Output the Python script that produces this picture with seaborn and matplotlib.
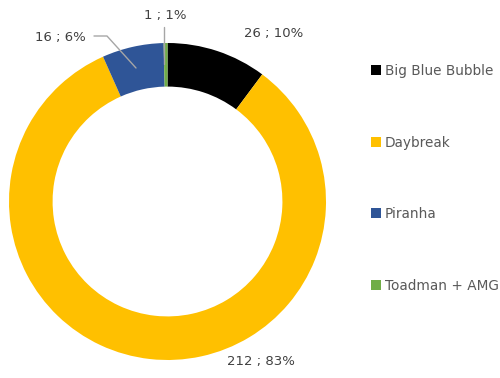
import matplotlib
matplotlib.use("Agg")
import matplotlib.pyplot as plt
import seaborn as sns
from matplotlib.patches import Patch

sns.set_theme(style="white")
plt.rcParams['font.family'] = ['DejaVu Sans']

categories = ["Big Blue Bubble", "Daybreak", "Piranha", "Toadman + AMG"]
values = [26, 212, 16, 1]
percents = ["10%", "83%", "6%", "1%"]
colors = ["#000000", "#FFC000", "#2F5597", "#70AD47"]

fig = plt.figure(figsize=(5.0, 3.78), dpi=100)
ax = fig.add_axes([9/500, 18/378, 317/500, 317/378])
wedges, _ = ax.pie(values, colors=colors, startangle=90, counterclock=False,
                   radius=1.0, wedgeprops=dict(width=0.275, linewidth=0))
ax.set_xlim(-1, 1)
ax.set_ylim(-1, 1)
ax.set_aspect("equal")
ax.axis("off")

labels = [f"{v} ; {p}" for v, p in zip(values, percents)]
tc = "#404040"
fs = 9.5

def px(x, y):
    return ((x - 167.5) / 158.5, (201.5 - y) / 158.5)

ax.text(*px(274, 33), labels[0], ha="center", va="center", fontsize=fs, color=tc)
ax.text(*px(261, 362), labels[1], ha="center", va="center", fontsize=fs, color=tc)
ax.text(*px(60, 37), labels[2], ha="center", va="center", fontsize=fs, color=tc)
ax.text(*px(165, 15), labels[3], ha="center", va="center", fontsize=fs, color=tc)

lc = "#A6A6A6"
x1, y1 = px(94, 36); x2, y2 = px(107, 36); x3, y3 = px(136, 68)
ax.plot([x1, x2, x3], [y1, y2, y3], color=lc, lw=1, clip_on=False)
x1, y1 = px(163.5, 27); x2, y2 = px(163.5, 64)
ax.plot([x1, x2], [y1, y2], color=lc, lw=1, clip_on=False)

handles = [Patch(facecolor=c, edgecolor="none") for c in colors]
leg = fig.legend(handles, categories, loc="upper left",
                 bbox_to_anchor=(371/500, 1 - 64/378), frameon=False,
                 fontsize=9.8, labelcolor="#595959", handlelength=0.77,
                 handleheight=0.77, handletextpad=0.25, labelspacing=4.23,
                 borderaxespad=0, borderpad=0)

fig.savefig("out.png", dpi=100, facecolor="white")
